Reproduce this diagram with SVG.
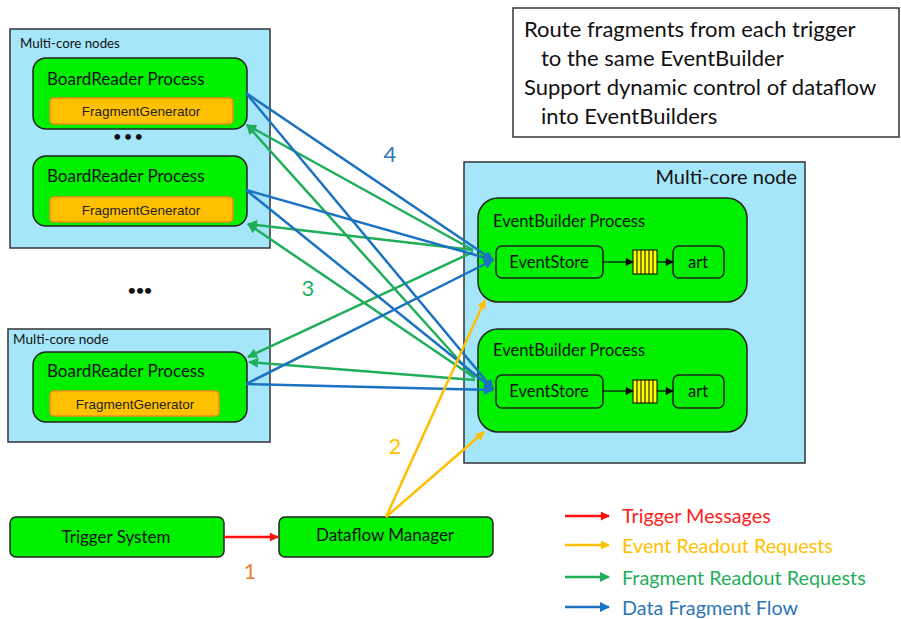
<svg xmlns="http://www.w3.org/2000/svg" width="901" height="619" viewBox="0 0 901 619">
<defs>
<style>
.node{fill:#a6e6fb;stroke:#333;stroke-width:1.5}
.proc{fill:#00f000;stroke:#222;stroke-width:1.5}
.fg{fill:#ffc000;stroke:#f08c20;stroke-width:1.5}
.t{font-family:Lato,"Liberation Sans",sans-serif;fill:#111}
.a{font-family:"Liberation Sans",Arial,sans-serif;font-size:13.5px;fill:#222;text-anchor:middle}
.blue{stroke:#1a72c0;stroke-width:2.5;fill:none}
.green{stroke:#1fae5a;stroke-width:2.5;fill:none}
.yel{stroke:#ffc000;stroke-width:2.5;fill:none}
.red{stroke:#ff1010;stroke-width:2.5;fill:none}
.blk{stroke:#000;stroke-width:1.2;fill:none}
</style>
<marker id="mb" viewBox="0 0 10 10" refX="9" refY="5" markerWidth="11" markerHeight="10" markerUnits="userSpaceOnUse" orient="auto"><path d="M0,0L10,5L0,10z" fill="#1a72c0"/></marker>
<marker id="mg" viewBox="0 0 10 10" refX="9" refY="5" markerWidth="11" markerHeight="10" markerUnits="userSpaceOnUse" orient="auto"><path d="M0,0L10,5L0,10z" fill="#1fae5a"/></marker>
<marker id="my" viewBox="0 0 10 10" refX="9" refY="5" markerWidth="10" markerHeight="9" markerUnits="userSpaceOnUse" orient="auto"><path d="M0,0L10,5L0,10z" fill="#ffc000"/></marker>
<marker id="mr" viewBox="0 0 10 10" refX="9" refY="5" markerWidth="10" markerHeight="9" markerUnits="userSpaceOnUse" orient="auto"><path d="M0,0L10,5L0,10z" fill="#ff1010"/></marker>
<marker id="mk" viewBox="0 0 10 10" refX="9" refY="5" markerWidth="9" markerHeight="8" markerUnits="userSpaceOnUse" orient="auto"><path d="M0,0L10,5L0,10z" fill="#000"/></marker>
</defs>
<rect width="901" height="619" fill="#fff"/>

<g id="note">
<rect x="513" y="8" width="386" height="129" fill="#fff" stroke="#333" stroke-width="1.5"/>
<text class="t" font-size="22" x="524" y="37">Route fragments from each trigger</text>
<text class="t" font-size="22" x="541" y="66">to the same EventBuilder</text>
<text class="t" font-size="22" x="524" y="95">Support dynamic control of dataflow</text>
<text class="t" font-size="22" x="541" y="124">into EventBuilders</text>
</g>

<g id="br-nodes">
<rect class="node" x="10" y="29" width="260" height="219"/>
<text class="t" font-size="13.3" x="20" y="48">Multi-core nodes</text>
<text class="t" font-size="13" x="128" y="141" text-anchor="middle" font-weight="bold">• • •</text>
</g>
<g id="br1">
<rect class="proc" x="33" y="58" width="214" height="71" rx="13"/>
<text class="t" font-size="17" x="47" y="85">BoardReader Process</text>
<rect class="fg" x="50" y="98" width="183" height="26" rx="4"/>
<text class="a" x="141" y="116">FragmentGenerator</text>
</g>
<g id="br2">
<rect class="proc" x="33" y="156" width="214" height="70" rx="13"/>
<text class="t" font-size="17" x="47" y="182">BoardReader Process</text>
<rect class="fg" x="50" y="197" width="183" height="25" rx="4"/>
<text class="a" x="141" y="215">FragmentGenerator</text>
</g>

<g id="dots">
<text class="t" font-size="14" x="140" y="295" text-anchor="middle" font-weight="bold">•••</text>
</g>

<g id="br-node3">
<rect class="node" x="8" y="329" width="262" height="113"/>
<text class="t" font-size="13.5" x="13" y="344">Multi-core node</text>
</g>
<g id="br3">
<rect class="proc" x="33" y="352" width="214" height="70" rx="13"/>
<text class="t" font-size="17" x="47" y="377">BoardReader Process</text>
<rect class="fg" x="50" y="391" width="169" height="25" rx="4"/>
<text class="a" x="135" y="409">FragmentGenerator</text>
</g>

<g id="eb-node">
<rect class="node" x="464" y="162" width="341" height="301"/>
<text class="t" font-size="20" x="797" y="184" text-anchor="end">Multi-core node</text>
</g>
<g id="eb1">
<rect class="proc" x="478" y="198" width="269" height="104" rx="20"/>
<text class="t" font-size="16.5" x="493" y="227">EventBuilder Process</text>
<rect class="proc" x="496" y="246" width="107" height="32" rx="6"/>
<text class="t" font-size="16.5" x="549" y="268" text-anchor="middle">EventStore</text>
<rect x="633" y="250" width="24" height="24" fill="#ffff00" stroke="#000" stroke-width="1"/>
<path d="M637,250v24M641,250v24M645,250v24M649,250v24M653,250v24" stroke="#000" stroke-width="1"/>
<rect class="proc" x="673" y="246" width="51" height="32" rx="6"/>
<text class="t" font-size="16.5" x="698" y="268" text-anchor="middle">art</text>
<line class="blk" x1="603" y1="262" x2="633" y2="262" marker-end="url(#mk)"/>
<line class="blk" x1="657" y1="262" x2="673" y2="262" marker-end="url(#mk)"/>
</g>
<g id="eb2">
<rect class="proc" x="478" y="329" width="269" height="103" rx="20"/>
<text class="t" font-size="16.5" x="493" y="356">EventBuilder Process</text>
<rect class="proc" x="496" y="375" width="107" height="33" rx="6"/>
<text class="t" font-size="16.5" x="549" y="397" text-anchor="middle">EventStore</text>
<rect x="633" y="380" width="24" height="23" fill="#ffff00" stroke="#000" stroke-width="1"/>
<path d="M637,380v23M641,380v23M645,380v23M649,380v23M653,380v23" stroke="#000" stroke-width="1"/>
<rect class="proc" x="673" y="375" width="51" height="33" rx="6"/>
<text class="t" font-size="16.5" x="698" y="397" text-anchor="middle">art</text>
<line class="blk" x1="603" y1="391" x2="633" y2="391" marker-end="url(#mk)"/>
<line class="blk" x1="657" y1="391" x2="673" y2="391" marker-end="url(#mk)"/>
</g>

<g id="trigger">
<rect class="proc" x="10" y="517" width="214" height="40" rx="6"/>
<text class="t" font-size="17" x="116" y="543" text-anchor="middle">Trigger System</text>
</g>
<g id="dfm">
<rect class="proc" x="279" y="517" width="214" height="40" rx="6"/>
<text class="t" font-size="17" x="385" y="541" text-anchor="middle">Dataflow Manager</text>
</g>

<g id="connectors">
<line class="green" x1="473" y1="250" x2="247" y2="125" marker-end="url(#mg)"/>
<line class="green" x1="475" y1="378" x2="247" y2="125" marker-end="url(#mg)"/>
<line class="green" x1="473" y1="250" x2="248" y2="224" marker-end="url(#mg)"/>
<line class="green" x1="475" y1="378" x2="248" y2="224" marker-end="url(#mg)"/>
<line class="green" x1="473" y1="252" x2="248" y2="357" marker-end="url(#mg)"/>
<line class="green" x1="475" y1="380" x2="249" y2="362" marker-end="url(#mg)"/>
<line class="blue" x1="246" y1="93" x2="493" y2="260" marker-end="url(#mb)"/>
<line class="blue" x1="246" y1="93" x2="493" y2="389" marker-end="url(#mb)"/>
<line class="blue" x1="246" y1="190" x2="493" y2="260" marker-end="url(#mb)"/>
<line class="blue" x1="246" y1="190" x2="493" y2="389" marker-end="url(#mb)"/>
<line class="blue" x1="246" y1="384" x2="493" y2="260" marker-end="url(#mb)"/>
<line class="blue" x1="246" y1="384" x2="493" y2="390" marker-end="url(#mb)"/>
<line class="yel" x1="386" y1="517" x2="485" y2="300" marker-end="url(#my)"/>
<line class="yel" x1="386" y1="517" x2="484" y2="432" marker-end="url(#my)"/>
<line class="red" x1="224" y1="537" x2="278" y2="537" marker-end="url(#mr)"/>
</g>

<g id="step-labels">
<text class="t" font-size="22" x="390" y="162" text-anchor="middle" style="fill:#2e75b6">4</text>
<text class="t" font-size="22" x="308" y="296" text-anchor="middle" style="fill:#1fae5a">3</text>
<text class="t" font-size="22" x="395" y="454" text-anchor="middle" style="fill:#ffc000">2</text>
<text class="t" font-size="22" x="250" y="579" text-anchor="middle" style="fill:#ed7d31">1</text>
</g>

<g id="legend">
<line class="red" x1="565" y1="516" x2="609" y2="516" marker-end="url(#mr)"/>
<line class="yel" x1="565" y1="545" x2="609" y2="545" marker-end="url(#my)"/>
<line class="green" x1="565" y1="577" x2="609" y2="577" marker-end="url(#mg)"/>
<line class="blue" x1="565" y1="607" x2="609" y2="607" marker-end="url(#mb)"/>
<text class="t" font-size="19.8" x="622" y="523" style="fill:#ff2020">Trigger Messages</text>
<text class="t" font-size="19.8" x="622" y="553" style="fill:#ffc000">Event Readout Requests</text>
<text class="t" font-size="19.8" x="622" y="585" style="fill:#1fae5a">Fragment Readout Requests</text>
<text class="t" font-size="19.8" x="622" y="615" style="fill:#2e75b6">Data Fragment Flow</text>
</g>
</svg>
